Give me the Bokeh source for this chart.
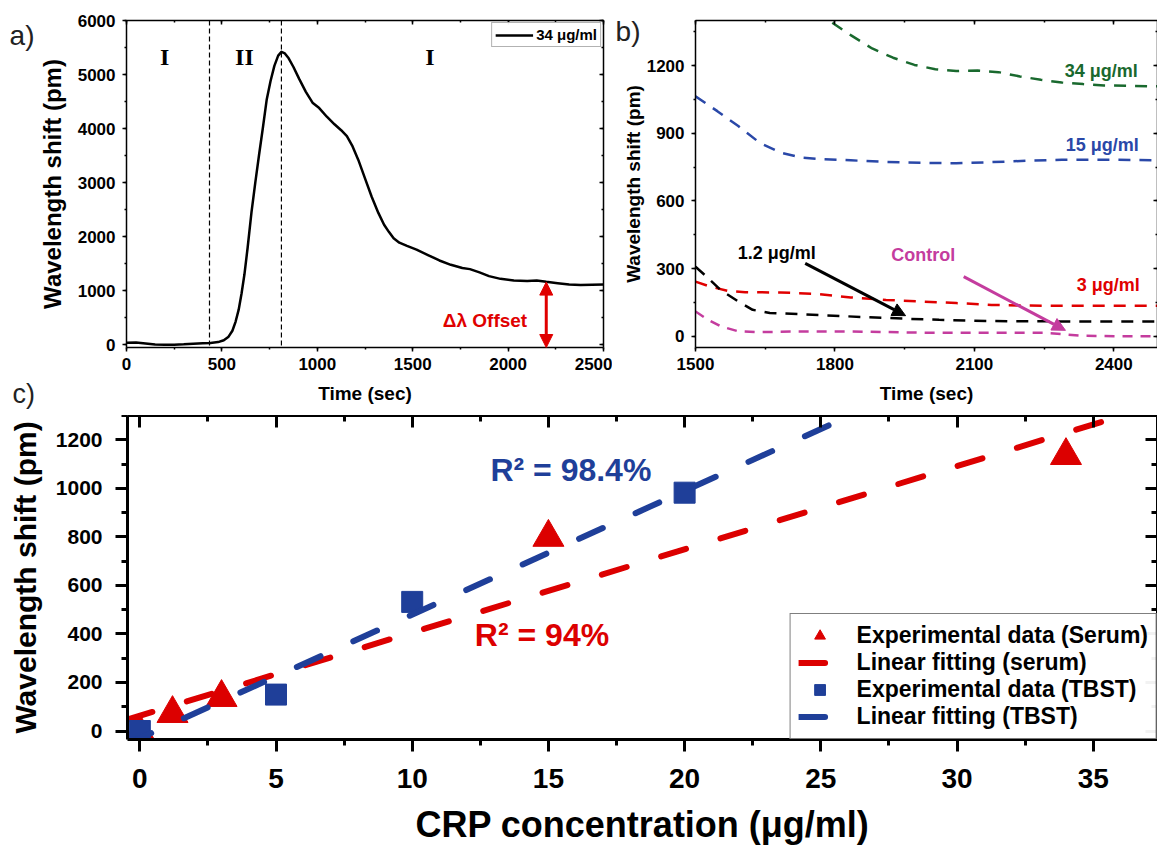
import numpy as np
from bokeh.plotting import figure
from bokeh.models import (LinearAxis, SingleIntervalTicker, FixedTicker, Range1d, Label,
                          Arrow, NormalHead, Legend, LegendItem, Span, Title)
from bokeh.layouts import column, row
from bokeh.embed import file_html
from bokeh.resources import INLINE

# ---------------- data ----------------
# (a) full sensorgram, 34 ug/ml
a_time = [0, 50, 100, 150, 200, 250, 300, 350, 400, 440, 480, 510, 535, 555, 572, 588,
          603, 618, 635, 655, 675, 695, 715, 735, 755, 775, 795, 812, 830, 850, 875, 905,
          940, 975, 1010, 1050, 1090, 1125, 1155, 1185, 1215, 1250, 1285, 1320, 1350, 1375,
          1400, 1430, 1470, 1520, 1580, 1640, 1700, 1760, 1800, 1850, 1900, 1960, 2030,
          2100, 2150, 2200, 2260, 2320, 2380, 2440, 2500]
a_shift = [40, 42, 25, 5, 0, 2, 8, 20, 30, 35, 50, 85, 150, 260, 430, 650,
           950, 1300, 1800, 2450, 3000, 3520, 4020, 4540, 4880, 5160, 5350, 5420, 5390, 5300, 5140, 4920,
           4680, 4480, 4380, 4220, 4080, 3970, 3860, 3670, 3420, 3080, 2740, 2440, 2220, 2090,
           1970, 1890, 1830, 1760, 1660, 1560, 1480, 1420, 1400, 1340, 1270, 1220, 1190,
           1180, 1190, 1165, 1140, 1115, 1108, 1112, 1115]
a_phase_bounds = [435, 812]
a_region_labels = ["I", "II", "I"]
a_region_x = [200, 618, 1590]
a_region_y = [5330, 5330, 5330]
a_offset_time = 2200
a_offset_shift = 1160

# (b) zoom 1500-2500 s
b34_t = [1760, 1789, 1834, 1880, 1925, 1971, 2016, 2061, 2107, 2152, 2198, 2243, 2288, 2334, 2379, 2500]
b34_s = [1450, 1397, 1335, 1276, 1235, 1203, 1184, 1176, 1178, 1171, 1152, 1137, 1125, 1118, 1112, 1108]
b15_t = [1500, 1547, 1592, 1638, 1683, 1729, 1774, 1834, 1910, 1986, 2061, 2137, 2213, 2288, 2364, 2500]
b15_s = [1064, 998, 932, 858, 814, 792, 785, 780, 773, 769, 767, 772, 778, 782, 783, 780]
b3_t = [1500, 1532, 1570, 1607, 1683, 1759, 1834, 1910, 1986, 2061, 2137, 2213, 2288, 2364, 2500]
b3_s = [242, 220, 201, 195, 194, 188, 172, 161, 154, 147, 139, 136, 135, 135, 135]
b12_t = [1500, 1524, 1554, 1592, 1623, 1660, 1721, 1797, 1872, 1948, 2024, 2099, 2175, 2251, 2364, 2500]
b12_s = [308, 264, 205, 154, 117, 103, 98, 91, 84, 78, 73, 69, 66, 66, 65, 65]
bc_t = [1500, 1524, 1554, 1592, 1630, 1721, 1834, 1986, 2137, 2251, 2296, 2334, 2402, 2500]
bc_s = [110, 76, 44, 22, 18, 21, 21, 16, 15, 15, 8, 2, 0, 0]
b_series_labels = ["34 μg/ml", "15 μg/ml", "3 μg/ml", "1.2 μg/ml", "Control"]
b_label_x = [2373, 2375, 2388, 1675, 1990]
b_label_y = [1178, 846, 225, 371, 358]
b_arrow_12 = (1736, 323, 1952, 91)
b_arrow_ctrl = (2077, 264, 2296, 26)

# (c) calibration
serum_conc = [0, 1.2, 3, 15, 34]
serum_shift = [-5, 72, 138, 798, 1135]
tbst_conc = [0, 5, 10, 20]
tbst_shift = [0, 150, 532, 982]
r2_serum = "R² = 94%"
r2_tbst = "R² = 98.4%"

# panel letters: anchor values on the panels' own y scales
letter_a_y = 5722
letter_b_y = 1351

# ---------------- style ----------------
FONT = "Liberation Sans"
RED = "#e00000"
RED_C = "#dc0000"
BLUE_C = "#1f3f99"
BLUE_B = "#2a48a8"
GREEN = "#19692e"
MAGENTA = "#c43c9e"
LETTER = "#222222"


def style_axis(ax, lw, maj_out, maj_in, min_out, min_in, lab_px=None, standoff=0,
               title=None, title_px=None, title_standoff=0):
    ax.axis_line_width = lw
    ax.axis_line_color = "black"
    ax.major_tick_line_width = lw
    ax.minor_tick_line_width = lw
    ax.major_tick_line_color = "black"
    ax.minor_tick_line_color = "black"
    ax.major_tick_out = maj_out
    ax.major_tick_in = maj_in
    ax.minor_tick_out = min_out
    ax.minor_tick_in = min_in
    ax.major_label_text_font = FONT
    ax.major_label_text_font_style = "bold"
    if lab_px is None:
        # mirrored frame side: ticks only, no tick labels painted
        ax.major_label_text_font_size = "0px"
        ax.major_label_text_color = None
        ax.major_label_standoff = 0
    else:
        ax.major_label_text_color = "black"
        ax.major_label_text_font_size = f"{lab_px}px"
        ax.major_label_standoff = standoff
    if title is not None:
        ax.axis_label = title
        ax.axis_label_text_font = FONT
        ax.axis_label_text_font_style = "bold"
        ax.axis_label_text_font_size = f"{title_px}px"
        ax.axis_label_text_color = "black"
        ax.axis_label_standoff = title_standoff


def base_fig(w, h, xr, yr, mbl, mbr, mbt, mbb):
    p = figure(width=w, height=h, x_range=Range1d(*xr), y_range=Range1d(*yr),
               min_border_left=mbl, min_border_right=mbr, min_border_top=mbt,
               min_border_bottom=mbb, output_backend="svg", toolbar_location=None)
    p.grid.visible = False
    p.outline_line_color = None
    p.background_fill_color = "white"
    p.border_fill_color = "white"
    return p


def mirror_axis(p, interval, lw, tin, tmin, side):
    ax = LinearAxis(ticker=SingleIntervalTicker(interval=interval, num_minor_ticks=2))
    style_axis(ax, lw, 0, tin, 0, tmin)
    p.add_layout(ax, side)


def letter_axis(p, yval, txt, standoff):
    ax = LinearAxis(ticker=FixedTicker(ticks=[yval], minor_ticks=[]),
                    major_label_overrides={yval: txt})
    ax.axis_line_color = None
    ax.major_tick_line_color = None
    ax.minor_tick_line_color = None
    ax.major_tick_out = 0
    ax.major_tick_in = 0
    ax.minor_tick_out = 0
    ax.minor_tick_in = 0
    ax.major_label_text_font = FONT
    ax.major_label_text_font_style = "normal"
    ax.major_label_text_font_size = "28px"
    ax.major_label_text_color = LETTER
    ax.major_label_standoff = standoff
    p.add_layout(ax, "left")


# ---------------- panel a ----------------
pa = base_fig(612, 415, (0, 2500), (-50, 6000), 126, 9, 20, 68)
pa.xaxis.ticker = SingleIntervalTicker(interval=500, num_minor_ticks=2)
pa.yaxis.ticker = SingleIntervalTicker(interval=1000, num_minor_ticks=2)
style_axis(pa.xaxis[0], 1.5, 4, 0, 2, 0, 17, 6, "Time (sec)", 19, 10)
style_axis(pa.yaxis[0], 1.5, 4, 0, 2, 0, 17, 7, "Wavelength shift (pm)", 24, 9)
mirror_axis(pa, 500, 1.5, 4, 2, "above")
mirror_axis(pa, 1000, 1.5, 4, 2, "right")
letter_axis(pa, letter_a_y, "a)", 1)
pa.add_layout(Title(text="c)\n\u00a0", align="left", offset=-114, standoff=-56,
                    vertical_align="top", text_font=FONT, text_font_size="27px",
                    text_font_style="normal", text_color=LETTER), "below")

for loc in a_phase_bounds:
    pa.add_layout(Span(location=loc, dimension="height", line_color="black",
                       line_width=1.2, line_dash="5 3"))

curve_a = pa.line(a_time, a_shift, line_color="black", line_width=2.5, line_join="round")

for t, xx, yy in zip(a_region_labels, a_region_x, a_region_y):
    pa.add_layout(Label(x=xx, y=yy, text=t, text_font="Liberation Serif",
                        text_font_style="bold", text_font_size="24px",
                        text_align="center", text_baseline="middle", text_color="black"))

pa.add_layout(Arrow(start=NormalHead(size=13, fill_color=RED, line_color=RED),
                    end=NormalHead(size=13, fill_color=RED, line_color=RED),
                    x_start=a_offset_time, y_start=-50, x_end=a_offset_time,
                    y_end=a_offset_shift, line_color=RED, line_width=3))
pa.add_layout(Label(x=2100, y=450, text="Δλ Offset", text_font=FONT,
                    text_font_style="bold", text_font_size="19px", text_color=RED,
                    text_align="right", text_baseline="middle"))

leg_a = Legend(items=[LegendItem(label="34 μg/ml", renderers=[curve_a])],
               location="top_right", margin=2, padding=3, spacing=0,
               glyph_width=38, glyph_height=16, label_height=16, label_standoff=3,
               label_text_font=FONT, label_text_font_size="15px",
               label_text_font_style="bold", label_text_color="black",
               border_line_color="#666666", border_line_width=1)
pa.add_layout(leg_a)

# ---------------- panel b ----------------
pb = base_fig(545, 415, (1500, 2494), (-50, 1400), 72, 0, 20, 68)
pb.xaxis.ticker = SingleIntervalTicker(interval=300, num_minor_ticks=2)
pb.yaxis.ticker = SingleIntervalTicker(interval=300, num_minor_ticks=2)
style_axis(pb.xaxis[0], 1.5, 4, 0, 2, 0, 17, 6, "Time (sec)", 19, 10)
style_axis(pb.yaxis[0], 1.5, 4, 0, 2, 0, 17, 7, "Wavelength shift (pm)", 19, 0)
mirror_axis(pb, 300, 1.5, 4, 2, "above")
mirror_axis(pb, 300, 1.5, 4, 2, "right")
letter_axis(pb, letter_b_y, "b)", -21)

series_b = [(b34_t, b34_s, GREEN, "12 9"), (b15_t, b15_s, BLUE_B, "12 9"),
            (b3_t, b3_s, RED, "12 9"), (b12_t, b12_s, "black", "12 9"),
            (bc_t, bc_s, MAGENTA, "10 8")]
for t, s, c, d in series_b:
    pb.line(t, s, line_color=c, line_width=2.5, line_dash=d)

label_colors_b = [GREEN, BLUE_B, RED, "black", MAGENTA]
for txt, xx, yy, c in zip(b_series_labels, b_label_x, b_label_y, label_colors_b):
    pb.add_layout(Label(x=xx, y=yy, text=txt, text_font=FONT, text_font_style="bold",
                        text_font_size="18px", text_color=c, text_align="center",
                        text_baseline="middle"))

for (x0, y0, x1, y1), c in [(b_arrow_12, "black"), (b_arrow_ctrl, MAGENTA)]:
    pb.add_layout(Arrow(end=NormalHead(size=13, fill_color=c, line_color=c),
                        x_start=x0, y_start=y0, x_end=x1, y_end=y1,
                        line_color=c, line_width=3))

# ---------------- panel c ----------------
xr_c = (-0.452, 37.36)
pc = base_fig(1157, 432, xr_c, (-35, 1300), 127, 0, 0, 105)
pc.xaxis.ticker = SingleIntervalTicker(interval=5, num_minor_ticks=2)
pc.yaxis.ticker = SingleIntervalTicker(interval=200, num_minor_ticks=2)
style_axis(pc.xaxis[0], 3, 12, 0, 6, 0, 28, 17, "CRP concentration (μg/ml)", 36, 13)
style_axis(pc.yaxis[0], 3, 12, 0, 6, 0, 21, 13, "Wavelength shift (pm)", 30, 11)
mirror_axis(pc, 5, 3, 12, 6, "above")
mirror_axis(pc, 200, 3, 12, 6, "right")

fit_x = np.array(xr_c)
k_s, b_s = np.polyfit(serum_conc, serum_shift, 1)
k_t, b_t = np.polyfit(tbst_conc, tbst_shift, 1)

r_tri = pc.scatter(serum_conc, serum_shift, marker="triangle", size=31,
                   fill_color=RED_C, line_color=RED_C)
r_fit_s = pc.line(fit_x, k_s * fit_x + b_s, line_color=RED_C, line_width=6,
                  line_dash="26 36", line_cap="round")
r_sq = pc.scatter(tbst_conc, tbst_shift, marker="square", size=21,
                  fill_color=BLUE_C, line_color=BLUE_C)
r_fit_t = pc.line(fit_x, k_t * fit_x + b_t, line_color=BLUE_C, line_width=6,
                  line_dash="26 36", line_cap="round")

pc.add_layout(Label(x=12.87, y=1075, text=r2_tbst, text_font=FONT, text_font_style="bold",
                    text_font_size="32px", text_color=BLUE_C, text_align="left",
                    text_baseline="middle"))
pc.add_layout(Label(x=12.3, y=394, text=r2_serum, text_font=FONT, text_font_style="bold",
                    text_font_size="32px", text_color=RED_C, text_align="left",
                    text_baseline="middle"))

leg_c = Legend(items=[LegendItem(label="Experimental data (Serum)", renderers=[r_tri]),
                      LegendItem(label="Linear fitting (serum)", renderers=[r_fit_s]),
                      LegendItem(label="Experimental data (TBST)", renderers=[r_sq]),
                      LegendItem(label="Linear fitting (TBST)", renderers=[r_fit_t])],
               location="bottom_right", margin=0, padding=8, spacing=0,
               glyph_width=42, glyph_height=27, label_height=27, label_standoff=16,
               label_text_font=FONT, label_text_font_size="23px",
               label_text_font_style="bold", label_text_color="black",
               border_line_color="black", border_line_width=1.5)
pc.add_layout(leg_c)

layout = column(row(pa, pb, spacing=0), pc, spacing=0)

open("out.html", "w").write(file_html(layout, INLINE))
